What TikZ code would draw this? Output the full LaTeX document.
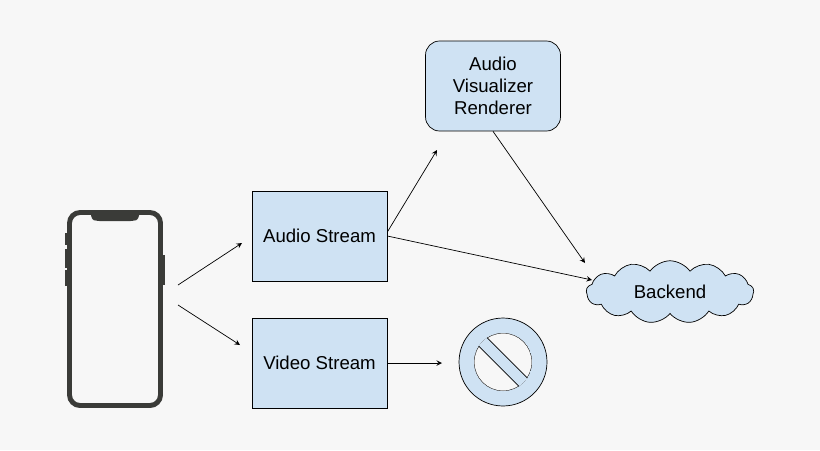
\documentclass[tikz,border=0pt]{standalone}
\usepackage{fontspec}
\setmainfont{Liberation Sans}
\usetikzlibrary{shapes.symbols}
\definecolor{bluefill}{HTML}{CFE2F3}
\definecolor{bgcol}{HTML}{F7F7F7}
\definecolor{phonecol}{HTML}{3A3B38}

\begin{document}
\begin{tikzpicture}[x=0.02cm,y=-0.02cm,>=stealth,thin]
\tikzstyle{box}=[draw,fill=bluefill,minimum width=2.7cm,minimum height=1.8cm,align=center,font=\fontsize{10.6}{12.6}\selectfont]
\tikzstyle{arr}=[->,shorten >=0pt]
\fill[bgcol] (0,0) rectangle (820,450);
\useasboundingbox (0,0) rectangle (820,450);
% phone
\draw[phonecol,line width=2.8pt,rounded corners=6pt] (69.5,212.5) rectangle (160.5,405.5);
\fill[phonecol,rounded corners=2pt] (91,211) -- (91,219) -- (96,221) -- (134,221) -- (139,219) -- (139,211) -- cycle;
\foreach \ya/\yb in {233/245,249/268,270/286}
  \fill[phonecol] (65,\ya) rectangle (68,\yb);
\fill[phonecol] (162,255) rectangle (165,285);
\coordinate (P1) at (178,285);
\coordinate (P2) at (178,305);
% boxes
\node[box] (audio) at (319.5,236) {Audio Stream};
\node[box] (video) at (319.5,363) {Video Stream};
\node[box,rounded corners=8pt] (render) at (493,86) {Audio\\Visualizer\\Renderer};
\node[draw,fill=bluefill,cloud,cloud puffs=13,cloud puff arc=110,aspect=2.8,minimum width=3.35cm,minimum height=1.25cm,font=\fontsize{10.6}{12.6}\selectfont] (backend) at (670,292) {Backend};
% no sign
\node[circle,draw,fill=bluefill,minimum size=1.76cm,inner sep=0pt] (nosign) at (503,362) {};
\begin{scope}
\clip (503,362) circle (29);
\draw[fill=bgcol] (503,362) circle (29);
\draw[fill=bluefill,rotate around={-45:(503,362)}] (443,356) rectangle (563,368);
\end{scope}
% arrows
\coordinate (A1) at (242,243);
\coordinate (A2) at (240,345);
\coordinate (R1) at (437,150);
\coordinate (B1) at (592,280);
\coordinate (B2) at (585,263);
\coordinate (N1) at (442,363);
\draw[arr] (P1) -- (A1);
\draw[arr] (P2) -- (A2);
\draw[arr] (audio.east) ++(0,-4) -- (R1);
\draw[arr] (audio.east) -- (B1);
\draw[arr] (render.south) -- (B2);
\draw[arr] (video.east) -- (N1);
\end{tikzpicture}
\end{document}
